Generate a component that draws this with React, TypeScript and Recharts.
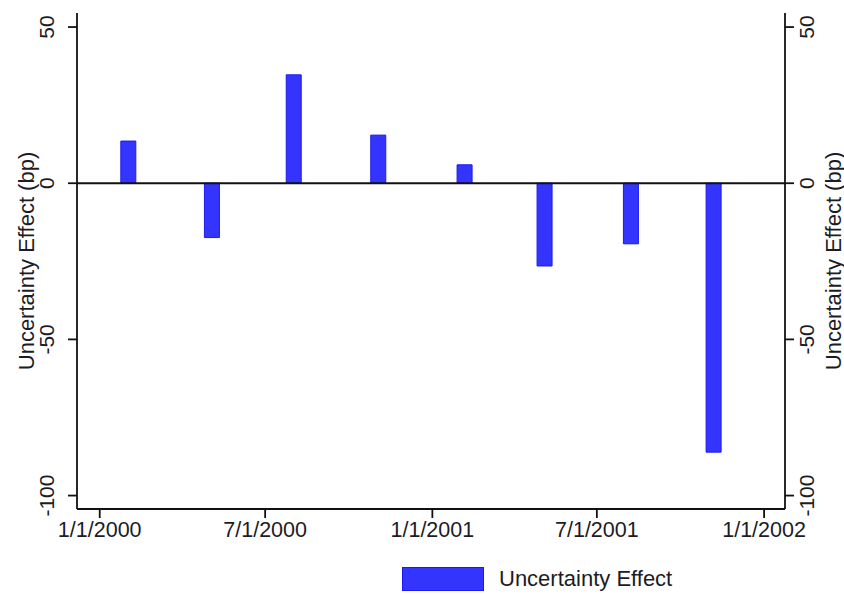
import React from 'react';
import { BarChart, Bar, XAxis, YAxis, ReferenceLine, Legend } from 'recharts';

// event dates and the estimated uncertainty effect (bp)
const eventDates = ['2000-02-02', '2000-05-04', '2000-08-02', '2000-11-03', '2001-02-06', '2001-05-05', '2001-08-08', '2001-11-07'];
const uncertaintyEffect = [13.5, -17.4, 34.7, 15.4, 5.9, -26.5, -19.4, -86.1];

const xTickDates = ['2000-01-01', '2000-07-01', '2001-01-01', '2001-07-01', '2002-01-01'];
const xTickLabels = ['1/1/2000', '7/1/2000', '1/1/2001', '7/1/2001', '1/1/2002'];
const yTicks = [50, 0, -50, -100];

const DAY = 86400000;
const origin = Date.UTC(2000, 0, 1);
const toDay = (s: string) => Math.round((Date.parse(s + 'T00:00:00Z') - origin) / DAY);

const data = eventDates.map((d, i) => ({ day: toDay(d), effect: uncertaintyEffect[i] }));
const xTicks = xTickDates.map(toDay);

const FONT = '"Liberation Sans", Arial, sans-serif';
const TEXT = '#1c1c24';
const AXIS = '#111';
const BAR_FILL = '#3434ff';
const BAR_EDGE = '#1a1af0';

const LeftTick = (props: any) => {
  const { x, y, payload } = props;
  const cx = x - 19;
  return (
    <text x={cx} y={y} transform={`rotate(-90, ${cx}, ${y})`} textAnchor="middle" dominantBaseline="central"
      fontFamily={FONT} fontSize={21} fill={TEXT}>{payload.value}</text>
  );
};

const RightTick = (props: any) => {
  const { x, y, payload } = props;
  const cx = x + 11;
  return (
    <text x={cx} y={y} transform={`rotate(-90, ${cx}, ${y})`} textAnchor="middle" dominantBaseline="central"
      fontFamily={FONT} fontSize={21} fill={TEXT}>{payload.value}</text>
  );
};

const DateTick = (props: any) => {
  const { x, y, payload } = props;
  const i = xTicks.indexOf(payload.value);
  return (
    <text x={x} y={y + 17} textAnchor="middle" fontFamily={FONT} fontSize={21.5} fill={TEXT}>
      {i >= 0 ? xTickLabels[i] : ''}
    </text>
  );
};

const AxisTitle = (props: any) => {
  const { viewBox, dx } = props;
  if (!viewBox) return null;
  const cx = viewBox.x + dx;
  const cy = viewBox.y + viewBox.height / 2;
  return (
    <text x={cx} y={cy} transform={`rotate(-90, ${cx}, ${cy})`} textAnchor="middle" dominantBaseline="central"
      fontFamily={FONT} fontSize={22} fill={TEXT}>Uncertainty Effect (bp)</text>
  );
};

const LegendBox = () => (
  <div style={{ position: 'relative', height: 26, fontFamily: FONT, fontSize: 22, color: TEXT }}>
    <div style={{ position: 'absolute', left: 402, top: 1, width: 80, height: 22, background: BAR_FILL, border: `1px solid ${BAR_EDGE}` }} />
    <div style={{ position: 'absolute', left: 499, top: 0, lineHeight: '26px', whiteSpace: 'nowrap' }}>Uncertainty Effect</div>
  </div>
);

export default function App() {
  return (
    <div style={{ position: 'absolute', left: 0, top: 0, background: '#fff' }}>
      <BarChart width={844} height={595} data={data} margin={{ top: 13, right: 0, left: 0, bottom: 46 }} barSize={15}>
        <XAxis dataKey="day" type="number" domain={[-25, 754]} ticks={xTicks} allowDataOverflow
          height={40} tickSize={9} tick={<DateTick />} stroke={AXIS} strokeWidth={1.8}
          tickLine={{ stroke: AXIS, strokeWidth: 1.8 }} />
        <YAxis yAxisId="left" orientation="left" width={77} type="number" domain={[-104.3, 54.5]} ticks={yTicks}
          allowDataOverflow tickSize={9} tick={<LeftTick />} stroke={AXIS} strokeWidth={1.8}
          tickLine={{ stroke: AXIS, strokeWidth: 1.8 }} label={<AxisTitle dx={26} />} />
        <YAxis yAxisId="right" orientation="right" width={59} type="number" domain={[-104.3, 54.5]} ticks={yTicks}
          allowDataOverflow tickSize={9} tick={<RightTick />} stroke={AXIS} strokeWidth={1.8}
          tickLine={{ stroke: AXIS, strokeWidth: 1.8 }} label={<AxisTitle dx={48} />} />
        <ReferenceLine yAxisId="left" y={0} stroke={AXIS} strokeWidth={1.8} />
        <Bar yAxisId="left" dataKey="effect" name="Uncertainty Effect" fill={BAR_FILL} stroke={BAR_EDGE}
          strokeWidth={1} isAnimationActive={false} />
        <Legend layout="horizontal" verticalAlign="middle" align="center"
          wrapperStyle={{ top: 566, left: 0, width: 844 }} content={<LegendBox />} />
      </BarChart>
    </div>
  );
}
